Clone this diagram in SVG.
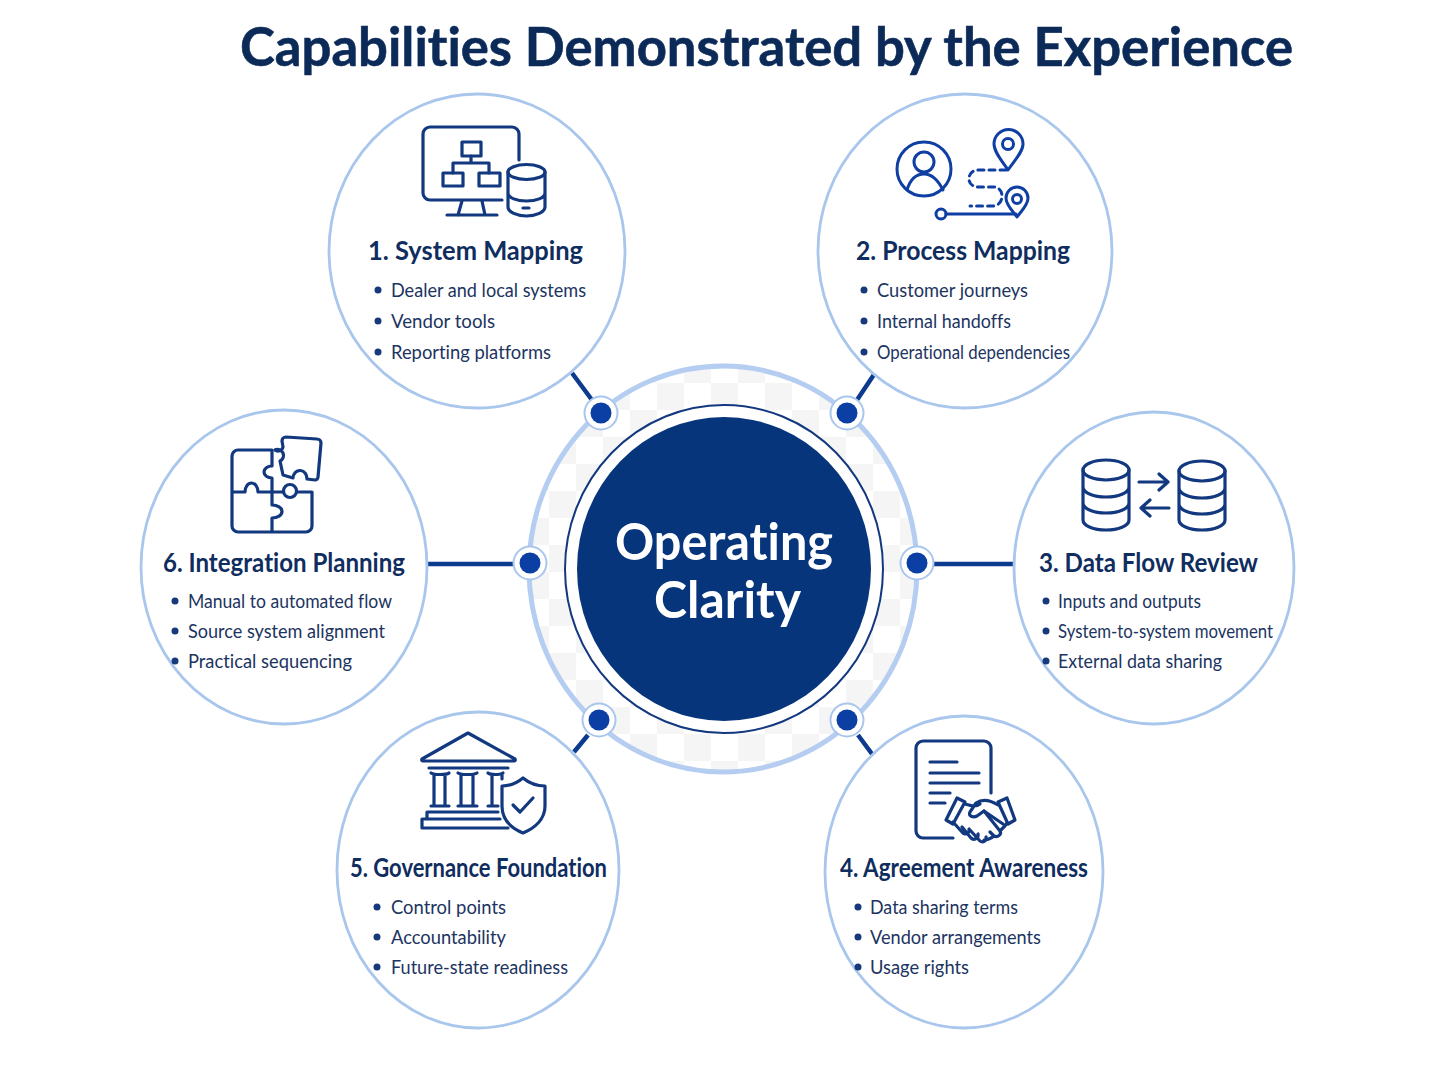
<svg xmlns="http://www.w3.org/2000/svg" width="1448" height="1086" viewBox="0 0 1448 1086">
<style>
text{font-family:"Lato","Open Sans","Liberation Sans",sans-serif;font-variant-ligatures:none}
.t{font-size:53px;font-weight:700;fill:#0c2a58;stroke:#0c2a58;stroke-width:.6}
.h{font-size:27px;font-weight:700;fill:#0f2d5e}
.b{font-size:18.500px;font-weight:400;fill:#1c3461}
.c{font-size:52px;font-weight:700;fill:#fff}
.n{fill:#fff;stroke:#a9c6ec;stroke-width:2.800}
.d{fill:#17397c}
.i{fill:none;stroke:#12387f;stroke-width:3.200;stroke-linecap:round;stroke-linejoin:round}
.i2{stroke:#0f3fa3;stroke-width:3}
.l{stroke:#0c3a8e;stroke-width:4.500;fill:none}
.p1{fill:#fff;stroke:#a9c6ec;stroke-width:2}
.p2{fill:#0b3fa3}
</style>
<defs>
<pattern id="chk" x="657" y="383" width="54" height="54" patternUnits="userSpaceOnUse">
<rect width="54" height="54" fill="#fff"/>
<rect x="0" y="0" width="27" height="27" fill="#f5f5f5"/>
<rect x="27" y="27" width="27" height="27" fill="#f5f5f5"/>
</pattern>
</defs>
<rect width="1448" height="1086" fill="#fff"/>
<text class="t" x="240" y="66" textLength="1053" lengthAdjust="spacingAndGlyphs">Capabilities Demonstrated by the Experience</text>

<g id="center">
<ellipse cx="723" cy="569" rx="194" ry="203" fill="url(#chk)" stroke="#b4cdf0" stroke-width="5"/>
<ellipse cx="724" cy="569" rx="159" ry="164" fill="#fff" stroke="#12387f" stroke-width="2"/>
<ellipse cx="724" cy="569" rx="147" ry="152" fill="#07357c"/>
<text class="c" x="615" y="560" textLength="218" lengthAdjust="spacingAndGlyphs">Operating</text>
<text class="c" x="654" y="618" textLength="147" lengthAdjust="spacingAndGlyphs">Clarity</text>
</g>

<g id="connectors">
<path class="l" d="M572 373L592 400M875 373L857 400M934 564H1014M858 735L872 754M588 735L574 752M427 564H514"/>
<circle class="p1" cx="601" cy="413" r="16.500"/><circle class="p2" cx="601" cy="413" r="10.500"/>
<circle class="p1" cx="847" cy="413" r="16.500"/><circle class="p2" cx="847" cy="413" r="10.500"/>
<circle class="p1" cx="917" cy="563" r="16.500"/><circle class="p2" cx="917" cy="563" r="10.500"/>
<circle class="p1" cx="847" cy="720" r="16.500"/><circle class="p2" cx="847" cy="720" r="10.500"/>
<circle class="p1" cx="599" cy="720" r="16.500"/><circle class="p2" cx="599" cy="720" r="10.500"/>
<circle class="p1" cx="530" cy="563" r="16.500"/><circle class="p2" cx="530" cy="563" r="10.500"/>
</g>

<g id="node1">
<ellipse class="n" cx="477" cy="251" rx="148" ry="157"/>
<path class="i" d="M519 160V134a7 7 0 0 0-7-7H430a7 7 0 0 0-7 7V193a7 7 0 0 0 7 7H502M462 201L458 215M482 201L485 215M447 215H497M471 156V163M453 163H489M453 163V173M489 163V173"/>
<rect class="i" x="462" y="142" width="19" height="14"/><rect class="i" x="443" y="173" width="20" height="13"/><rect class="i" x="479" y="173" width="21" height="13"/>
<path class="i" d="M508 172V207C508 212 517 216 526.500 216S545 212 545 207V172M508 193C508 198 517 201 526.500 201S545 198 545 193M523 208H529"/>
<ellipse class="i" cx="526.500" cy="172" rx="18.500" ry="7.500"/>
<text class="h" x="368" y="260" textLength="215" lengthAdjust="spacingAndGlyphs">1. System Mapping</text>
<circle class="d" cx="378" cy="290" r="3.500"/><circle class="d" cx="378" cy="321" r="3.500"/><circle class="d" cx="378" cy="352" r="3.500"/>
<text class="b" x="391" y="297" textLength="195" lengthAdjust="spacingAndGlyphs">Dealer and local systems</text>
<text class="b" x="391" y="328" textLength="104" lengthAdjust="spacingAndGlyphs">Vendor tools</text>
<text class="b" x="391" y="359" textLength="160" lengthAdjust="spacingAndGlyphs">Reporting platforms</text>
</g>

<g id="node2">
<ellipse class="n" cx="965" cy="251" rx="147" ry="157"/>
<g class="i i2">
<circle cx="924" cy="169" r="27"/><circle cx="924" cy="162" r="10"/>
<path d="M907 190C910 180 916 174 924 174S938 180 943 190"/>
<path d="M1008 170C1002 161 994 152 994 144A14.500 14.500 0 0 1 1023 144C1023 152 1014 161 1008 170Z"/><circle cx="1008" cy="144" r="5.500"/>
<path d="M1017 217C1012 210 1006 205 1006 198A11 11 0 0 1 1028 198C1028 205 1022 210 1017 217Z"/><circle cx="1017" cy="199" r="4.500"/>
<path stroke-dasharray="6 5" d="M1006 170H979C972 170 969 174 969 179C969 184 973 187 979 187H993C999 187 1002 191 1002 196C1002 202 998 206 992 206H970"/>
<circle cx="941" cy="214" r="5"/><path d="M946 214H1016"/>
</g>
<text class="h" x="856" y="260" textLength="214" lengthAdjust="spacingAndGlyphs">2. Process Mapping</text>
<circle class="d" cx="864" cy="290" r="3.500"/><circle class="d" cx="864" cy="321" r="3.500"/><circle class="d" cx="864" cy="352" r="3.500"/>
<text class="b" x="877" y="297" textLength="151" lengthAdjust="spacingAndGlyphs">Customer journeys</text>
<text class="b" x="877" y="328" textLength="134" lengthAdjust="spacingAndGlyphs">Internal handoffs</text>
<text class="b" x="877" y="359" textLength="193" lengthAdjust="spacingAndGlyphs">Operational dependencies</text>
</g>

<g id="node3">
<ellipse class="n" cx="1154" cy="568" rx="140" ry="156"/>
<g class="i">
<ellipse cx="1106" cy="470" rx="23" ry="10"/>
<path d="M1083 470V520C1083 526 1094 530 1106 530S1129 526 1129 520V470M1083 487C1083 493 1094 497 1106 497S1129 493 1129 487M1083 503C1083 509 1094 513 1106 513S1129 509 1129 503"/>
<ellipse cx="1202" cy="471" rx="23" ry="10"/>
<path d="M1179 471V520C1179 526 1190 530 1202 530S1225 526 1225 520V471M1179 488C1179 494 1190 498 1202 498S1225 494 1225 488M1179 504C1179 510 1190 514 1202 514S1225 510 1225 504"/>
<path d="M1139 482H1168M1159 474L1168 482L1159 490M1169 508H1141M1150 500L1141 508L1150 516"/>
</g>
<text class="h" x="1039" y="572" textLength="219" lengthAdjust="spacingAndGlyphs">3. Data Flow Review</text>
<circle class="d" cx="1046" cy="601" r="3.500"/><circle class="d" cx="1046" cy="631" r="3.500"/><circle class="d" cx="1046" cy="661" r="3.500"/>
<text class="b" x="1058" y="608" textLength="143" lengthAdjust="spacingAndGlyphs">Inputs and outputs</text>
<text class="b" x="1058" y="638" textLength="215" lengthAdjust="spacingAndGlyphs">System-to-system movement</text>
<text class="b" x="1058" y="668" textLength="164" lengthAdjust="spacingAndGlyphs">External data sharing</text>
</g>

<g id="node4">
<ellipse class="n" cx="964" cy="872" rx="139" ry="156"/>
<g class="i">
<path d="M991 793V748a7 7 0 0 0-7-7H923a7 7 0 0 0-7 7V831a7 7 0 0 0 7 7H953M930 762H957M930 773H979M930 783H979M930 793H950M930 803H945"/>
<path d="M957 798L946 820L953 824L965 802ZM998 802L1007 798L1015 820L1008 824Z"/>
<path d="M965 804C972 806 976 807 980 804M998 805C990 800 982 799 976 803L970 812C968 816 973 818 977 816L984 811L1003 824"/>
<path d="M953 822L962 832C965 836 970 833 969 829M962 827L971 838C974 841 979 838 978 834M970 830L980 841C983 843 987 841 986 837M990 832L994 836C998 838 1002 834 1000 831L984 811M1000 831C1003 828 1005 826 1007 823M994 836C990 839 987 840 984 840"/>
</g>
<text class="h" x="840" y="877" textLength="248" lengthAdjust="spacingAndGlyphs">4. Agreement Awareness</text>
<circle class="d" cx="858" cy="907" r="3.500"/><circle class="d" cx="858" cy="937" r="3.500"/><circle class="d" cx="858" cy="967" r="3.500"/>
<text class="b" x="870" y="914" textLength="148" lengthAdjust="spacingAndGlyphs">Data sharing terms</text>
<text class="b" x="870" y="944" textLength="171" lengthAdjust="spacingAndGlyphs">Vendor arrangements</text>
<text class="b" x="870" y="974" textLength="99" lengthAdjust="spacingAndGlyphs">Usage rights</text>
</g>

<g id="node5">
<ellipse class="n" cx="478" cy="870" rx="141" ry="158"/>
<g class="i">
<path d="M468 733L422 759Q421 761 424 761H513Q516 761 515 759Z"/>
<path d="M429 768H508M431 773C434 775 447 775 449 773M434 775V806M445 775V806M458 773C461 775 474 775 477 773M461 775V806M473 775V806M488 773C490 775 500 775 503 773M492 775V806M502 775V779M431 806H449M458 806H477M488 806H498M428 812H498M427 812V819M423 819H500M422 819V828H508"/>
<path d="M523 778C529 783 537 786 545 786V806C545 819 535 828 523 833C511 828 502 819 502 806V786C510 786 517 783 523 778Z"/>
<path d="M513 805L520 812L533 798"/>
</g>
<text class="h" x="350" y="877" textLength="257" lengthAdjust="spacingAndGlyphs">5. Governance Foundation</text>
<circle class="d" cx="377" cy="907" r="3.500"/><circle class="d" cx="377" cy="937" r="3.500"/><circle class="d" cx="377" cy="967" r="3.500"/>
<text class="b" x="391" y="914" textLength="115" lengthAdjust="spacingAndGlyphs">Control points</text>
<text class="b" x="391" y="944" textLength="115" lengthAdjust="spacingAndGlyphs">Accountability</text>
<text class="b" x="391" y="974" textLength="177" lengthAdjust="spacingAndGlyphs">Future-state readiness</text>
</g>

<g id="node6">
<ellipse class="n" cx="284" cy="567" rx="143" ry="157"/>
<g class="i">
<path d="M272 450H238a6 6 0 0 0-6 6V526a6 6 0 0 0 6 6H306a6 6 0 0 0 6-6V492H297M283 492H258M245 492H232M245 492a6.500 9 0 0 1 13 0M272 450V466a8 6 0 0 0 0 12V505a10 6.500 0 0 1 0 13V532"/>
<circle cx="290" cy="491" r="6.500"/>
<path d="M275 450a5 5 0 0 0 8-3L282 441a4 4 0 0 1 4-4L317 439a4 4 0 0 1 4 4L318 477a3 3 0 0 1-3 3L307 479a7 8 0 0 0-14-1L283 475L280 461a5 5 0 0 0-5-11"/>
</g>
<text class="h" x="163" y="572" textLength="242" lengthAdjust="spacingAndGlyphs">6. Integration Planning</text>
<circle class="d" cx="175" cy="601" r="3.500"/><circle class="d" cx="175" cy="631" r="3.500"/><circle class="d" cx="175" cy="661" r="3.500"/>
<text class="b" x="188" y="608" textLength="204" lengthAdjust="spacingAndGlyphs">Manual to automated flow</text>
<text class="b" x="188" y="638" textLength="197" lengthAdjust="spacingAndGlyphs">Source system alignment</text>
<text class="b" x="188" y="668" textLength="164" lengthAdjust="spacingAndGlyphs">Practical sequencing</text>
</g>
</svg>
